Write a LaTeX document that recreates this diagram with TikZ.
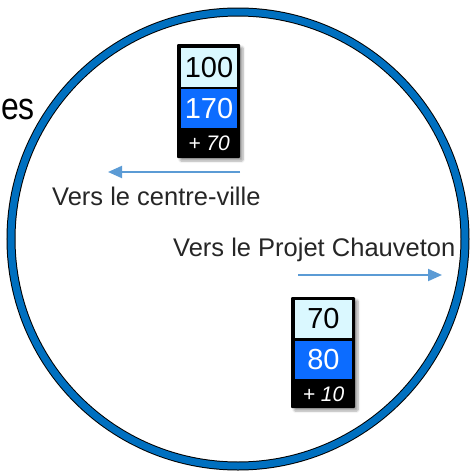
\documentclass[tikz,border=0pt]{standalone}
\usepackage{fontspec}
\setmainfont{Liberation Sans}
\usetikzlibrary{arrows.meta,shadows.blur}
\definecolor{ringblue}{RGB}{0,112,192}
\definecolor{cellcyan}{RGB}{218,248,255}
\definecolor{cellblue}{RGB}{12,108,255}
\definecolor{arrowblue}{RGB}{91,155,213}
\tikzset{
  frame/.style={draw=none,fill=black,inner sep=0pt,rounded corners=1pt,
    blur shadow={shadow xshift=3pt,shadow yshift=-3pt,shadow blur steps=6,shadow opacity=35}},
  cyancell/.style={fill=cellcyan,inner sep=0pt,text=black,font=\fontsize{29}{30}\selectfont},
  bluecell/.style={fill=cellblue,inner sep=0pt,text=white,font=\fontsize{29}{30}\selectfont},
  deltatxt/.style={inner sep=0pt,text=white,font=\fontsize{21}{22}\selectfont\itshape},
  label/.style={inner sep=0pt,anchor=base west,text=black!85,font=\fontsize{25.5}{26}\selectfont},
  dirarrow/.style={draw=arrowblue,line width=2pt,-{Triangle[length=14pt,width=12pt]}}
}
\begin{document}
\begin{tikzpicture}[x=1pt,y=-1pt]
\useasboundingbox (0,0) rectangle (472,474);
% ring
\draw[black,line width=9pt] (238,239) circle[radius=227];
\draw[ringblue,line width=7pt] (238,239) circle[radius=227];
% clipped word
\node[inner sep=0pt,anchor=base east,font=\fontsize{38}{40}\selectfont] (es) at (35,119) {\scalebox{0.84}[1]{es}};
% top box
\node[frame,minimum width=63pt,minimum height=114pt] (f1) at (208.5,101) {};
\node[cyancell,minimum width=56pt,minimum height=39pt] (a1) at (209,67.5) {100};
\node[bluecell,minimum width=56pt,minimum height=39pt] (b1) at (209,108.5) {170};
\node[deltatxt] (d1) at (209,143) {+ 70};
% bottom box
\node[frame,minimum width=64pt,minimum height=111pt] (f2) at (323,352.5) {};
\node[cyancell,minimum width=57pt,minimum height=38pt] (a2) at (323.5,319) {70};
\node[bluecell,minimum width=57pt,minimum height=38pt] (b2) at (323.5,360) {80};
\node[deltatxt] (d2) at (323.5,394) {+ 10};
% labels
\node[label] (l1) at (52,205) {Vers le centre-ville};
\node[label] (l2) at (173,256) {Vers le Projet Chauveton};
% arrows
\coordinate (s1) at (240,172);
\coordinate (e1) at (108,172);
\coordinate (s2) at (298,275);
\coordinate (e2) at (442,275);
\draw[dirarrow] (s1) -- (e1);
\draw[dirarrow] (s2) -- (e2);
\end{tikzpicture}
\end{document}
